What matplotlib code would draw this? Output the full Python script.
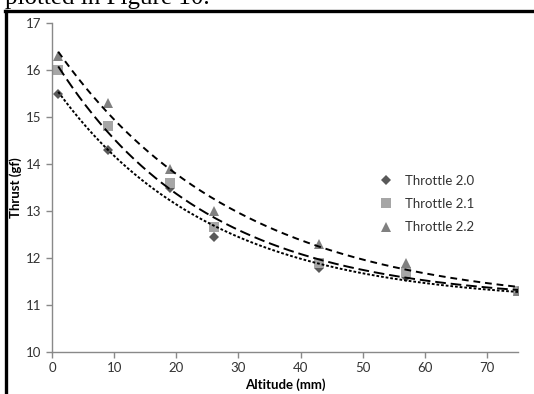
import numpy as np
import matplotlib
matplotlib.use('Agg')
import matplotlib.pyplot as plt
from matplotlib.lines import Line2D

# altitude (mm) and thrust (gf) for each throttle setting
altitude = np.array([1, 9, 19, 26, 43, 57, 75])
thrust_20 = np.array([15.5, 14.3, 13.5, 12.45, 11.78, 11.6, 11.3])
thrust_21 = np.array([16.0, 14.8, 13.6, 12.65, 11.9, 11.7, 11.3])
thrust_22 = np.array([16.3, 15.3, 13.9, 13.0, 12.3, 11.9, 11.3])

series = [
    ('Throttle 2.0', thrust_20, 'D', '#595959', 5.5, (0, (1.4, 1.0))),
    ('Throttle 2.1', thrust_21, 's', '#A6A6A6', 7.5, (0, (5.5, 2.5))),
    ('Throttle 2.2', thrust_22, '^', '#808080', 7.5, (0, (3.5, 2.5))),
]


def exp_trend(x, y, xs):
    # y = c + a*exp(b*x), b picked on a grid, a and c by least squares
    best = None
    for b in np.linspace(-0.2, -0.005, 400):
        A = np.column_stack([np.ones_like(x, dtype=float), np.exp(b * x)])
        coef, res, _, _ = np.linalg.lstsq(A, y, rcond=None)
        err = np.sum((A @ coef - y) ** 2)
        if best is None or err < best[0]:
            best = (err, b, coef)
    _, b, coef = best
    return coef[0] + coef[1] * np.exp(b * xs)


plt.rcParams['font.family'] = ['Lato', 'DejaVu Sans']

fig = plt.figure(figsize=(5.34, 3.94), dpi=100)
ax = fig.add_axes([0.0974, 0.1066, 0.8726, 0.835])

x_fit = np.linspace(altitude[0], altitude[-1], 200)
handles = []
for label, y, mk, col, ms, ls in series:
    ax.plot(x_fit, exp_trend(altitude, y, x_fit), color='black', lw=1.4,
            linestyle=ls, zorder=3)
for label, y, mk, col, ms, ls in series:
    h, = ax.plot(altitude, y, linestyle='none', marker=mk, color=col,
                 markersize=ms, markeredgewidth=0, label=label, zorder=2)
    handles.append(h)

ax.set_xlim(0, 75)
ax.set_ylim(10, 17)
ax.set_xticks(range(0, 71, 10))
ax.set_yticks(range(10, 18))
for s in ['top', 'right']:
    ax.spines[s].set_visible(False)
for s in ['left', 'bottom']:
    ax.spines[s].set_color('#898989')
    ax.spines[s].set_linewidth(1.0)
ax.tick_params(colors='#898989', labelcolor='#333333', labelsize=9.5, length=4, width=1.0)
ax.set_xlabel('Altitude (mm)', fontsize=9.5, fontweight='bold', labelpad=3)
ax.set_ylabel('Thrust (gf)', fontsize=9.5, fontweight='bold', labelpad=3)

leg = ax.legend(handles=handles, loc='upper left', bbox_to_anchor=(0.675, 0.575),
                frameon=False, fontsize=9.5, handletextpad=0.8, labelspacing=0.85,
                handlelength=1.2)
for t in leg.get_texts():
    t.set_color('#333333')

# page fragments around the figure
fig.text(0.01, 1 - 4 / 394, 'plotted in Figure 10.', fontsize=18,
         family='Liberation Serif', va='baseline', ha='left')
fig.add_artist(Line2D([5 / 534, 1.0], [1 - 11 / 394, 1 - 11 / 394],
                      transform=fig.transFigure, color='black', lw=2.4))
fig.add_artist(Line2D([6 / 534, 6 / 534], [0, 1 - 11 / 394],
                      transform=fig.transFigure, color='black', lw=2.4))

fig.savefig('out.png', dpi=100)
